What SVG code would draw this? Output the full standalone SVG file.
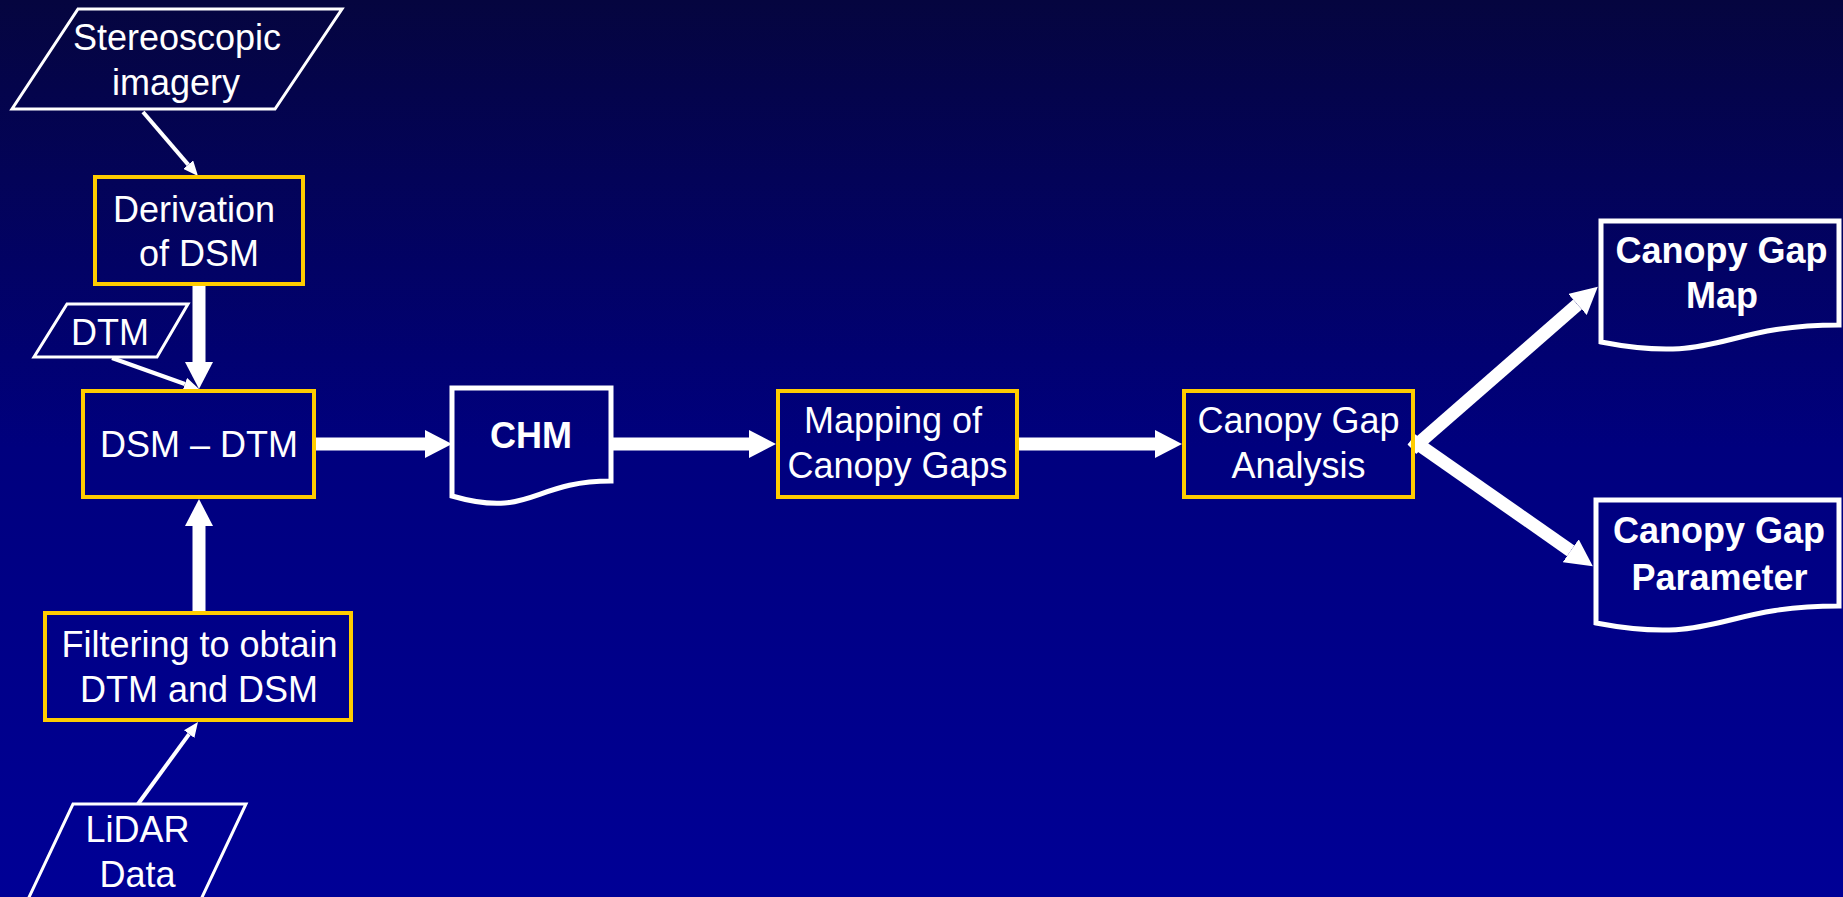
<svg xmlns="http://www.w3.org/2000/svg" width="1843" height="897" viewBox="0 0 1843 897">
<defs>
<linearGradient id="bg" x1="0" y1="0" x2="0" y2="1">
<stop offset="0" stop-color="#05053f"/>
<stop offset="0.5" stop-color="#00007e"/>
<stop offset="1" stop-color="#000096"/>
</linearGradient>
<marker id="thick" markerUnits="userSpaceOnUse" markerWidth="27" markerHeight="28" refX="0" refY="14" orient="auto" viewBox="0 0 27 28">
<path d="M0,0 L27,14 L0,28 z" fill="#ffffff"/>
</marker>
<marker id="thin" markerUnits="userSpaceOnUse" markerWidth="15" markerHeight="13" refX="0" refY="6.5" orient="auto" viewBox="0 0 15 13">
<path d="M0,0 L15,6.5 L0,13 z" fill="#ffffff"/>
</marker>
<style>
.box{fill:none;stroke:#ffcc00;stroke-width:4}
.io{fill:none;stroke:#ffffff;stroke-width:3}
.doc{fill:none;stroke:#ffffff;stroke-width:5}
.t{font-family:"Liberation Sans",Arial,sans-serif;font-size:36px;fill:#ffffff;text-anchor:middle}
.b{font-weight:bold}
.thk{stroke:#ffffff;stroke-width:13;fill:none;marker-end:url(#thick)}
.thn{stroke:#ffffff;stroke-width:4;fill:none;marker-end:url(#thin)}
</style>
</defs>
<rect x="0" y="0" width="1843" height="897" fill="url(#bg)"/>

<g id="connectors">
<line class="thn" x1="143" y1="112" x2="188.2" y2="164.6"/>
<line class="thk" x1="199" y1="286" x2="199" y2="362"/>
<line class="thn" x1="112" y1="358" x2="184.9" y2="384"/>
<line class="thk" x1="199" y1="611" x2="199" y2="526"/>
<line class="thn" x1="138" y1="804" x2="189.1" y2="734.1"/>
<line class="thk" x1="316" y1="444" x2="425" y2="444"/>
<line class="thk" x1="611" y1="444" x2="749" y2="444"/>
<line class="thk" x1="1017" y1="444" x2="1155" y2="444"/>
<line class="thk" x1="1411.9" y1="449.2" x2="1577.5" y2="304.5"/>
<line class="thk" x1="1411.4" y1="439.5" x2="1570.7" y2="550.8"/>
</g>

<g id="stereo">
<polygon class="io" points="78,9 342,9 275,109 12,109"/>
<text class="t" x="177" y="50">Stereoscopic</text>
<text class="t" x="176" y="95">imagery</text>
</g>

<g id="derivation">
<rect class="box" x="95" y="177" width="208" height="107"/>
<text class="t" x="194" y="222">Derivation</text>
<text class="t" x="199" y="266">of DSM</text>
</g>

<g id="dtm">
<polygon class="io" points="67,304 188,304 157,357 34,357"/>
<text class="t" x="110" y="345">DTM</text>
</g>

<g id="dsmdtm">
<rect class="box" x="83" y="391" width="231" height="106"/>
<text class="t" x="199" y="457">DSM – DTM</text>
</g>

<g id="filtering">
<rect class="box" x="45" y="613" width="306" height="107"/>
<text class="t" x="199.5" y="657">Filtering to obtain</text>
<text class="t" x="199" y="702">DTM and DSM</text>
</g>

<g id="lidar">
<polygon class="io" points="73,804 246,804 196,910 23,910"/>
<text class="t" x="137.5" y="842">LiDAR</text>
<text class="t" x="137.5" y="887">Data</text>
</g>

<g id="chm">
<path class="doc" d="M452,388 H611 V481 C531.5,481 531.5,519 452,496 Z"/>
<text class="t b" x="531" y="448">CHM</text>
</g>

<g id="mapping">
<rect class="box" x="778" y="391" width="239" height="106"/>
<text class="t" x="893" y="433">Mapping of</text>
<text class="t" x="897.5" y="478">Canopy Gaps</text>
</g>

<g id="analysis">
<rect class="box" x="1184" y="391" width="229" height="106"/>
<text class="t" x="1298.5" y="433">Canopy Gap</text>
<text class="t" x="1298.5" y="478">Analysis</text>
</g>

<g id="gapmap">
<path class="doc" d="M1601,221 H1839 V325 C1720,325 1720,365 1601,342 Z"/>
<text class="t b" x="1721.5" y="263">Canopy Gap</text>
<text class="t b" x="1722" y="308">Map</text>
</g>

<g id="gapparam">
<path class="doc" d="M1596,500 H1839 V606 C1717.5,606 1717.5,646 1596,623 Z"/>
<text class="t b" x="1719" y="543">Canopy Gap</text>
<text class="t b" x="1719.5" y="590">Parameter</text>
</g>
</svg>
